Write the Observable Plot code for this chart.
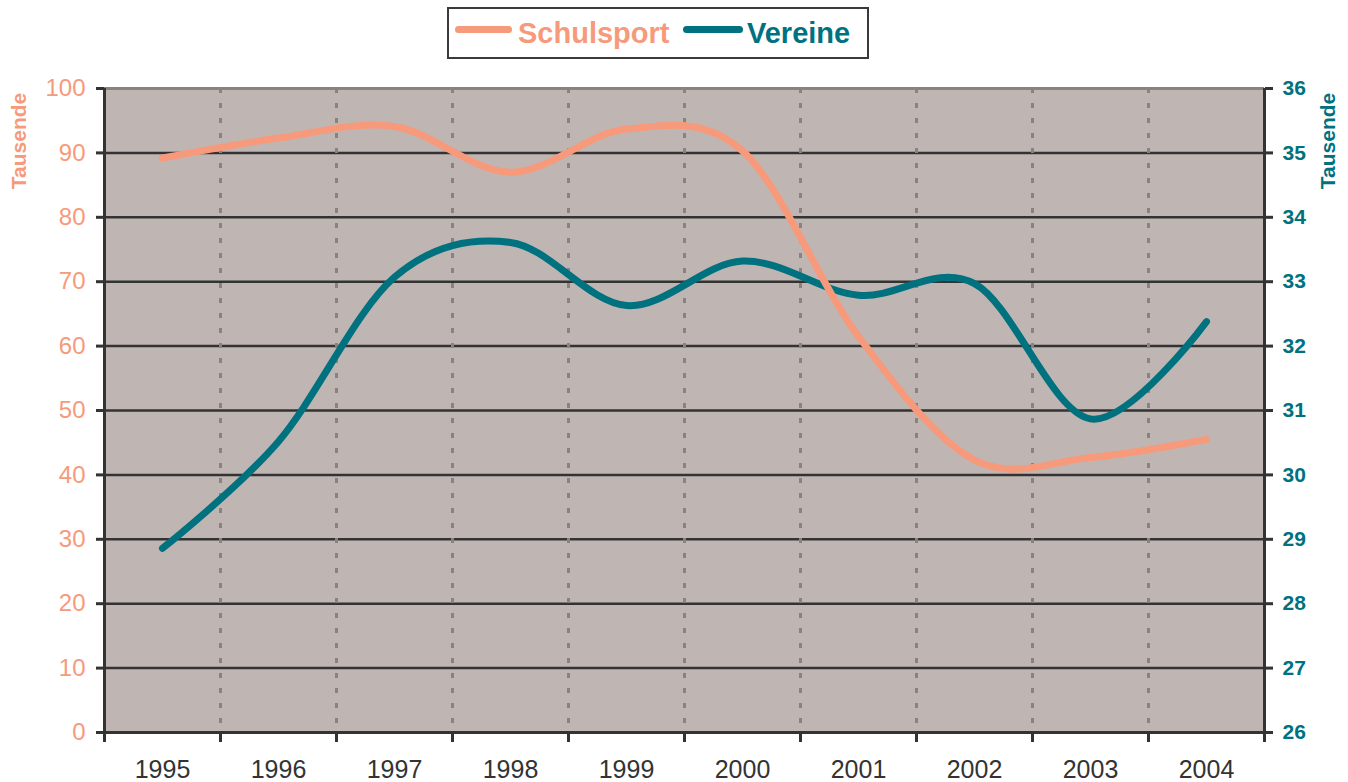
<!DOCTYPE html>
<html>
<head>
<meta charset="utf-8">
<script src="https://cdn.jsdelivr.net/npm/d3@7"></script>
<script src="https://cdn.jsdelivr.net/npm/@observablehq/plot@0.6"></script>
<style>
  body { margin: 0; background: #fff; font-family: "Liberation Sans", Arial, sans-serif; }
  #wrap { position: relative; width: 1348px; height: 782px; overflow: hidden; }
  #chart { position: absolute; left: 0; top: 0; }
  .ytitle { position: absolute; font-weight: bold; font-size: 21px; white-space: nowrap;
            transform: translate(-50%, -50%) rotate(-90deg); line-height: 1; }
  #legend { position: absolute; left: 447px; top: 7px; width: 422px; height: 52px; box-sizing: border-box;
            border: 2px solid #3a3a3a; background: #fff; }
  .sw { position: absolute; height: 7px; border-radius: 4px; }
  .lt { position: absolute; font-weight: bold; font-size: 29px; line-height: 1; white-space: nowrap; }
</style>
</head>
<body>
<div id="wrap">
  <div id="chart"></div>
  <div class="ytitle" id="tl" style="left:18px; top:141px;"></div>
  <div class="ytitle" id="tr" style="left:1327px; top:141px;"></div>
  <div id="legend"></div>
</div>
<script>
// ---- data ----
const years = [1995, 1996, 1997, 1998, 1999, 2000, 2001, 2002, 2003, 2004];
const schulsport = [89.2, 92.3, 94.1, 87.0, 93.7, 90.3, 61.5, 42.3, 42.7, 45.5]; // Tausende (left axis)
const vereine = [28.86, 30.52, 33.07, 33.61, 32.63, 33.32, 32.79, 32.97, 30.87, 32.38]; // Tausende (right axis)
const leftTicks = [0, 10, 20, 30, 40, 50, 60, 70, 80, 90, 100];
const rightTicks = [26, 27, 28, 29, 30, 31, 32, 33, 34, 35, 36];
const seriesNames = ["Schulsport", "Vereine"];
const axisTitle = "Tausende";

// ---- styles ----
const salmon = "#F69A7B";
const teal = "#00717F";
const bg = "#BFB6B3";
const dark = "#333333";
const grey = "#8B817E";

// right axis (26..36) mapped onto left scale (0..100)
const rMin = rightTicks[0], rMax = rightTicks[rightTicks.length - 1];
const toLeft = v => (v - rMin) / (rMax - rMin) * 100;
const fromLeft = d => rMin + d / 100 * (rMax - rMin);

const data = years.map((y, i) => ({ year: y, s: schulsport[i], v: toLeft(vereine[i]) }));
const bounds = [...years.map(y => y - 0.5), years[years.length - 1] + 0.5];

const chart = Plot.plot({
  width: 1348,
  height: 782,
  marginTop: 88,
  marginBottom: 50,
  marginLeft: 104,
  marginRight: 84,
  style: { fontFamily: '"Liberation Sans", Arial, sans-serif', background: "transparent", overflow: "visible" },
  x: { type: "linear", domain: [bounds[0], bounds[bounds.length - 1]], label: null },
  y: { domain: [leftTicks[0], leftTicks[leftTicks.length - 1]], label: null },
  marks: [
    Plot.frame({ fill: bg, stroke: null }),
    Plot.ruleY(leftTicks.filter(t => t > 0 && t < 100), { stroke: dark, strokeWidth: 2.5 }),
    Plot.ruleY([100], { stroke: grey, strokeWidth: 3 }),
    Plot.ruleX(bounds.slice(1, -1), { stroke: grey, strokeWidth: 3, strokeDasharray: "5,10" }),
    Plot.line(data, { x: "year", y: "v", curve: "cardinal", stroke: teal, strokeWidth: 7, strokeLinecap: "round", strokeLinejoin: "round" }),
    Plot.line(data, { x: "year", y: "s", curve: "cardinal", stroke: salmon, strokeWidth: 7, strokeLinecap: "round", strokeLinejoin: "round" }),
    Plot.ruleX([bounds[0], bounds[bounds.length - 1]], { stroke: dark, strokeWidth: 3 }),
    Plot.ruleY([0], { stroke: dark, strokeWidth: 3 }),
    Plot.axisY(leftTicks, { anchor: "left", label: null, tickSize: 8, tickPadding: 11, stroke: dark, strokeWidth: 3,
      fill: salmon, fontSize: 24, tickFormat: d => String(d) }),
    Plot.axisY(rightTicks.map(toLeft), { anchor: "right", label: null, tickSize: 8, tickPadding: 10, stroke: dark, strokeWidth: 3,
      fill: teal, fontSize: 21, fontWeight: "bold", tickFormat: d => String(Math.round(fromLeft(d))) }),
    Plot.axisX(bounds, { anchor: "bottom", label: null, tickSize: 10, stroke: dark, strokeWidth: 3, tickFormat: () => "" }),
    Plot.axisX(years, { anchor: "bottom", label: null, tickSize: 0, tickPadding: 28, fill: dark, fontSize: 25, tickFormat: d => String(d) })
  ]
});
document.getElementById("chart").appendChild(chart);

// axis titles
const tl = document.getElementById("tl");
tl.textContent = axisTitle; tl.style.color = salmon;
const tr = document.getElementById("tr");
tr.textContent = axisTitle; tr.style.color = teal;

// legend
const legend = document.getElementById("legend");
const items = [
  { name: seriesNames[0], color: salmon, swLeft: 6, swWidth: 57, txtLeft: 69 },
  { name: seriesNames[1], color: teal, swLeft: 234, swWidth: 60, txtLeft: 298 }
];
for (const it of items) {
  const sw = document.createElement("div");
  sw.className = "sw";
  sw.style.left = it.swLeft + "px"; sw.style.top = "17px"; sw.style.width = it.swWidth + "px";
  sw.style.background = it.color;
  legend.appendChild(sw);
  const t = document.createElement("div");
  t.className = "lt";
  t.style.left = it.txtLeft + "px"; t.style.top = "10px"; t.style.color = it.color;
  t.textContent = it.name;
  legend.appendChild(t);
}
</script>
</body>
</html>
